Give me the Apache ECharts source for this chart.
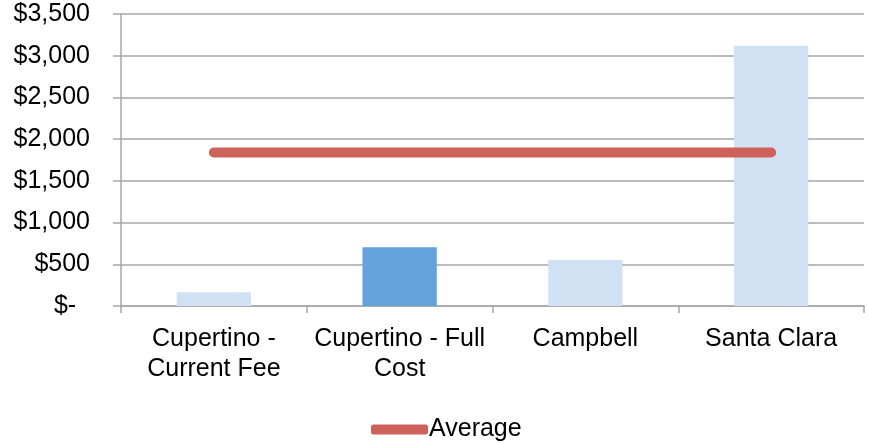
<!DOCTYPE html>
<html>
<head>
<meta charset="utf-8">
<script src="https://cdn.jsdelivr.net/npm/echarts@6/dist/echarts.min.js"></script>
<style>
html,body{margin:0;padding:0;background:#fff;}
#chart{width:869px;height:443px;}
</style>
</head>
<body>
<div id="chart"></div>
<script>
const categories = ['Cupertino -\nCurrent Fee', 'Cupertino - Full\nCost', 'Campbell', 'Santa Clara'];
const costValues = [165, 705, 550, 3120];
const averageValues = [1840, 1840, 1840, 1840];
const yTicks = { min: 0, max: 3500, interval: 500 };
const highlightCategory = 'Cupertino - Full\nCost';

const FONT = "'Liberation Sans', Arial, sans-serif";
const GRID = '#A6A6A6';

const chart = echarts.init(document.getElementById('chart'), null, { renderer: 'canvas' });
chart.setOption({
  animation: false,
  backgroundColor: '#ffffff',
  grid: { left: 121, right: 5, top: 14, bottom: 137, containLabel: false },
  legend: {
    data: ['Average'],
    left: 366,
    top: 412,
    itemWidth: 57,
    itemHeight: 10,
    icon: 'roundRect',
    textStyle: { fontFamily: FONT, fontSize: 25, color: '#000', padding: [0, 0, 0, -4] }
  },
  xAxis: {
    type: 'category',
    data: categories,
    boundaryGap: true,
    axisLine: { lineStyle: { color: GRID, width: 1.5 } },
    axisTick: { show: true, length: 7, alignWithLabel: false, lineStyle: { color: GRID, width: 1.5 } },
    axisLabel: { fontFamily: FONT, fontSize: 25, color: '#000', lineHeight: 30, margin: 18, interval: 0 }
  },
  yAxis: {
    type: 'value',
    min: yTicks.min,
    max: yTicks.max,
    interval: yTicks.interval,
    axisLine: { show: true, lineStyle: { color: GRID, width: 1.5 } },
    axisTick: { show: true, length: 8, lineStyle: { color: GRID, width: 1.5 } },
    splitLine: { show: true, lineStyle: { color: GRID, width: 1.5 } },
    axisLabel: {
      fontFamily: FONT, fontSize: 25, color: '#000', margin: 31,
      formatter: v => v === 0 ? '$-  ' : '$' + v.toLocaleString('en-US')
    }
  },
  series: [
    {
      type: 'bar',
      data: costValues,
      barWidth: '40%',
      itemStyle: {
        color: p => categories[p.dataIndex] === highlightCategory ? '#64A1DD' : '#D0E1F3'
      }
    },
    {
      name: 'Average',
      type: 'line',
      data: averageValues,
      symbol: 'none',
      lineStyle: { color: '#CD625A', width: 10, cap: 'round' },
      itemStyle: { color: '#CD625A' }
    }
  ]
});
</script>
</body>
</html>
